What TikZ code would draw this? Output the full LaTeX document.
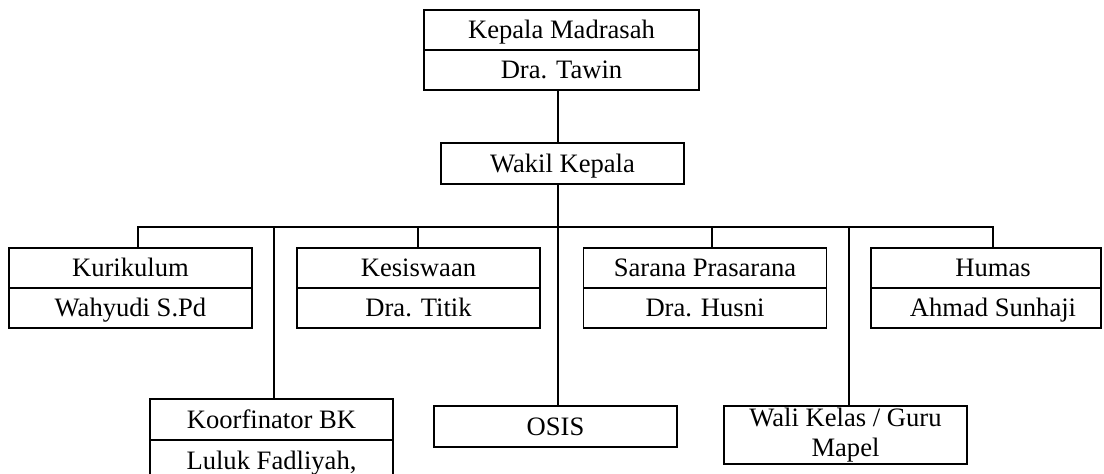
\documentclass[tikz,border=0pt]{standalone}
\usepackage{fontspec}
\setmainfont{Liberation Serif}
\begin{document}
\begin{tikzpicture}[x=1pt,y=-1pt,
  box/.style={draw, line width=1.8pt, minimum width=243pt, minimum height=40pt, inner sep=0pt,
    text height=17.6pt, text depth=0pt,
    font=\fontsize{26.6}{30}\selectfont, align=center},
  link/.style={line width=1.8pt}]
\useasboundingbox (0,0) rectangle (1104,474);
\clip (0,0) rectangle (1104,474);
% top
\node[box, minimum width=275pt] (kep1) at (561.5,30) {Kepala Madrasah};
\node[box, minimum width=275pt] (kep2) at (561.5,70) {Dra. Tawin};
\node[box, minimum height=41pt] (wakil) at (562.5,163.5) {Wakil Kepala};
% second row
\node[box] (kur1) at (130.5,268) {Kurikulum};
\node[box] (kur2) at (130.5,308) {Wahyudi S.Pd};
\node[box] (kes1) at (418.5,268) {Kesiswaan};
\node[box] (kes2) at (418.5,308) {Dra. Titik};
\node[box] (sar1) at (705,268) {Sarana Prasarana};
\node[box] (sar2) at (705,308) {Dra. Husni};
\node[box, minimum width=230pt] (hum1) at (986,268) {\hspace*{14pt}Humas};
\node[box, minimum width=230pt] (hum2) at (986,308) {\hspace*{14pt}Ahmad Sunhaji};
% third row
\node[box, minimum height=41pt] (koor1) at (271.5,419.5) {Koorfinator BK};
\node[box, minimum height=41pt] (koor2) at (271.5,460.5) {Luluk Fadliyah,};
\node[box, minimum height=41pt] (osis) at (555.5,426.5) {OSIS};
\node[box, minimum height=58pt, text height=, text depth=] (wali) at (845.5,435) {Wali Kelas / Guru\\Mapel};
% connector coordinates
\coordinate (spine) at (558,227);
\coordinate (bL) at (138,227);
\coordinate (bK) at (274,227);
\coordinate (bS) at (418,227);
\coordinate (bP) at (712,227);
\coordinate (bW) at (849,227);
\coordinate (bR) at (993,227);
% connectors
\draw[link] (spine |- kep2.south) -- (spine |- wakil.north);
\draw[link] (spine |- wakil.south) -- (spine |- osis.north);
\draw[link] (bL |- kur1.north) -- (bL) -- (bR) -- (bR |- hum1.north);
\draw[link] (bK) -- (bK |- koor1.north);
\draw[link] (bS) -- (bS |- kes1.north);
\draw[link] (bP) -- (bP |- sar1.north);
\draw[link] (bW) -- (bW |- wali.north);
\end{tikzpicture}
\end{document}
